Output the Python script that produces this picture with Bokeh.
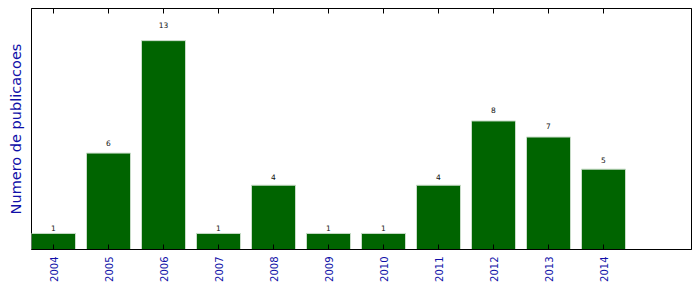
import math
from bokeh.plotting import figure
from bokeh.models import FixedTicker, LinearAxis, BasicTickFormatter, ColumnDataSource
from bokeh.core.properties import value
from bokeh.embed import file_html
from bokeh.resources import INLINE

years = [2004, 2005, 2006, 2007, 2008, 2009, 2010, 2011, 2012, 2013, 2014]
counts = [1, 6, 13, 1, 4, 1, 1, 4, 8, 7, 5]
y_label = "Numero de publicacoes"

FONT = "DejaVu Sans"
BLUE = "#1010a8"

p = figure(width=699, height=292, x_range=(years[0] - 0.4, years[0] + 11.6), y_range=(0, 15),
           output_backend="svg", toolbar_location=None,
           min_border_left=31, min_border_right=8, min_border_top=8, min_border_bottom=43)
p.background_fill_color = "white"
p.border_fill_color = "white"
p.outline_line_color = "black"
p.outline_line_width = 1
p.outline_line_alpha = 1.0
p.xgrid.visible = False
p.ygrid.visible = False

src = ColumnDataSource(dict(x=years, top=counts, ty=[1.05 * c for c in counts], lbl=[str(c) for c in counts]))
p.vbar(x="x", top="top", width=0.8, source=src, fill_color="#006400", line_color="#c8dcc8", line_width=1)
p.text(x="x", y="ty", text="lbl", source=src, text_align="center", text_baseline="bottom",
       y_offset=-2, text_font=value(FONT), text_font_size="7.5px", text_color="#111111")

xa = p.xaxis[0]
xa.ticker = FixedTicker(ticks=years)
xa.formatter = BasicTickFormatter(use_scientific=False)
xa.major_label_orientation = math.pi / 2
xa.major_label_text_font = FONT
xa.major_label_text_font_size = "10px"
xa.major_label_text_color = BLUE
xa.major_label_standoff = 7
xa.major_tick_in = 5
xa.major_tick_out = 0
xa.minor_tick_line_color = None
xa.axis_line_color = "black"

top_axis = LinearAxis(ticker=FixedTicker(ticks=years), major_label_overrides={y: "" for y in years},
                      major_tick_in=5, major_tick_out=0, minor_tick_line_color=None,
                      axis_line_color="black", major_label_standoff=0)
p.add_layout(top_axis, "above")

ya = p.yaxis[0]
ya.ticker = FixedTicker(ticks=[])
ya.major_tick_line_color = None
ya.minor_tick_line_color = None
ya.major_label_standoff = 0
ya.axis_line_color = None
ya.axis_label = y_label
ya.axis_label_text_font = FONT
ya.axis_label_text_font_size = "14.5px"
ya.axis_label_text_font_style = "normal"
ya.axis_label_text_color = BLUE
ya.axis_label_standoff = 8

open("out.html", "w").write(file_html(p, INLINE))
